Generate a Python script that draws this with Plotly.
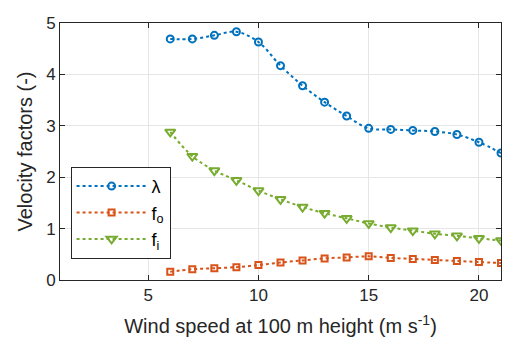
import plotly.graph_objects as go

wind = [6, 7, 8, 9, 10, 11, 12, 13, 14, 15, 16, 17, 18, 19, 20, 21]
lam = [4.69, 4.69, 4.76, 4.83, 4.63, 4.17, 3.78, 3.46, 3.19, 2.95, 2.93, 2.91, 2.89, 2.83, 2.68, 2.47]
f_o = [0.16, 0.21, 0.23, 0.25, 0.29, 0.34, 0.38, 0.42, 0.44, 0.46, 0.43, 0.41, 0.39, 0.37, 0.35, 0.33]
f_i = [2.88, 2.41, 2.13, 1.94, 1.74, 1.57, 1.42, 1.30, 1.20, 1.10, 1.02, 0.96, 0.90, 0.86, 0.81, 0.77]

x_ticks = [5, 10, 15, 20]
y_ticks = [0, 1, 2, 3, 4, 5]

FONT = "Liberation Sans, Arial, Helvetica, sans-serif"

fig = go.Figure()
fig.add_trace(go.Scatter(
    x=wind, y=lam, name="λ", mode="lines+markers", legendgroup="a", cliponaxis=False,
    line=dict(color="#0072BD", width=2, dash="dot", shape="spline"),
    marker=dict(symbol="circle-open", size=7, line=dict(width=2, color="#0072BD"), color="#0072BD")))
fig.add_trace(go.Scatter(
    x=wind, y=f_o, name="f<sub>o</sub>", mode="lines+markers", legendgroup="b", cliponaxis=False,
    line=dict(color="#D95319", width=2, dash="dot", shape="spline"),
    marker=dict(symbol="square-open", size=6, line=dict(width=2, color="#D95319"), color="#D95319")))
fig.add_trace(go.Scatter(
    x=wind, y=f_i, name="f<sub>i</sub>", mode="lines+markers", legendgroup="c", cliponaxis=False,
    line=dict(color="#77AC30", width=2, dash="dot", shape="spline"),
    marker=dict(symbol="triangle-down-open", size=9, line=dict(width=2, color="#77AC30"), color="#77AC30")))

axis_common = dict(
    showline=True, linecolor="#262626", linewidth=1, mirror="ticks",
    ticks="inside", ticklen=5, tickcolor="#262626",
    showgrid=True, gridcolor="#E6E6E6", gridwidth=1, zeroline=False,
    ticklabeloverflow="allow",
    tickfont=dict(family=FONT, size=17, color="#262626"),
)

fig.update_xaxes(range=[1, 21], tickvals=x_ticks,
                 title=dict(text="Wind speed at 100 m height (m s<sup>-1</sup>)",
                            font=dict(family=FONT, size=20, color="#262626"), standoff=14),
                 **axis_common)
fig.update_yaxes(range=[0, 5], tickvals=y_ticks,
                 title=dict(text="Velocity factors (-)",
                            font=dict(family=FONT, size=20, color="#262626"), standoff=8),
                 **axis_common)

# page body has an 8px margin, so the figure is shrunk to fit the 510x351 window
fig.update_layout(
    width=502, height=343,
    margin=dict(l=52, r=9, t=6, b=71),
    paper_bgcolor="white", plot_bgcolor="white",
    font=dict(family=FONT, color="#262626"),
    legend=dict(x=0.024, y=0.44, xanchor="left", yanchor="top",
                bgcolor="white", bordercolor="#262626", borderwidth=1,
                font=dict(family=FONT, size=18, color="#000000"),
                itemwidth=70, tracegroupgap=0),
    showlegend=True,
)

fig.write_html("out.html")
